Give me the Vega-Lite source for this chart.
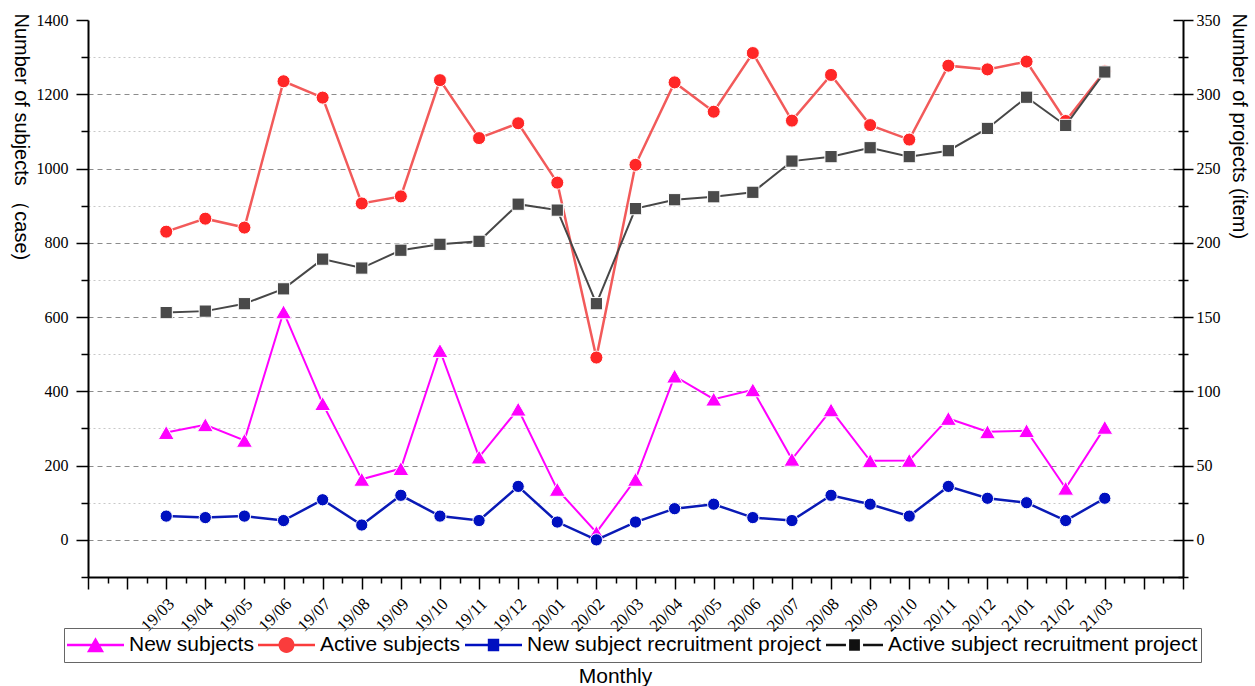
{
  "$schema": "https://vega.github.io/schema/vega-lite/v6.json",
  "width": 1095,
  "height": 557,
  "autosize": {"type": "none"},
  "padding": {"left": 88, "top": 20, "right": 72, "bottom": 109},
  "background": "white",
  "config": {
    "view": {"stroke": null},
    "axis": {
      "labelFont": "Liberation Serif",
      "labelFontSize": 16,
      "labelColor": "black",
      "titleFont": "Liberation Sans",
      "titleFontSize": 20,
      "titleFontWeight": "normal",
      "titleColor": "black",
      "domainColor": "black",
      "domainWidth": 2,
      "tickColor": "black",
      "tickWidth": 1.5,
      "grid": false,
      "labelOverlap": false
    }
  },
  "datasets": {
    "d": [
      {"m": "19/03", "s": "New subjects", "v": 289}, {"m": "19/04", "s": "New subjects", "v": 310}, {"m": "19/05", "s": "New subjects", "v": 268}, {"m": "19/06", "s": "New subjects", "v": 614}, {"m": "19/07", "s": "New subjects", "v": 367},
      {"m": "19/08", "s": "New subjects", "v": 163}, {"m": "19/09", "s": "New subjects", "v": 192}, {"m": "19/10", "s": "New subjects", "v": 510}, {"m": "19/11", "s": "New subjects", "v": 223}, {"m": "19/12", "s": "New subjects", "v": 352},
      {"m": "20/01", "s": "New subjects", "v": 136}, {"m": "20/02", "s": "New subjects", "v": 20}, {"m": "20/03", "s": "New subjects", "v": 163}, {"m": "20/04", "s": "New subjects", "v": 441}, {"m": "20/05", "s": "New subjects", "v": 379},
      {"m": "20/06", "s": "New subjects", "v": 404}, {"m": "20/07", "s": "New subjects", "v": 217}, {"m": "20/08", "s": "New subjects", "v": 350}, {"m": "20/09", "s": "New subjects", "v": 213}, {"m": "20/10", "s": "New subjects", "v": 214},
      {"m": "20/11", "s": "New subjects", "v": 327}, {"m": "20/12", "s": "New subjects", "v": 291}, {"m": "21/01", "s": "New subjects", "v": 294}, {"m": "21/02", "s": "New subjects", "v": 139}, {"m": "21/03", "s": "New subjects", "v": 303},

      {"m": "19/03", "s": "Active subjects", "v": 830}, {"m": "19/04", "s": "Active subjects", "v": 865}, {"m": "19/05", "s": "Active subjects", "v": 841}, {"m": "19/06", "s": "Active subjects", "v": 1235}, {"m": "19/07", "s": "Active subjects", "v": 1191},
      {"m": "19/08", "s": "Active subjects", "v": 906}, {"m": "19/09", "s": "Active subjects", "v": 925}, {"m": "19/10", "s": "Active subjects", "v": 1238}, {"m": "19/11", "s": "Active subjects", "v": 1082}, {"m": "19/12", "s": "Active subjects", "v": 1122},
      {"m": "20/01", "s": "Active subjects", "v": 962}, {"m": "20/02", "s": "Active subjects", "v": 491}, {"m": "20/03", "s": "Active subjects", "v": 1010}, {"m": "20/04", "s": "Active subjects", "v": 1232}, {"m": "20/05", "s": "Active subjects", "v": 1153},
      {"m": "20/06", "s": "Active subjects", "v": 1311}, {"m": "20/07", "s": "Active subjects", "v": 1129}, {"m": "20/08", "s": "Active subjects", "v": 1252}, {"m": "20/09", "s": "Active subjects", "v": 1117}, {"m": "20/10", "s": "Active subjects", "v": 1078},
      {"m": "20/11", "s": "Active subjects", "v": 1277}, {"m": "20/12", "s": "Active subjects", "v": 1267}, {"m": "21/01", "s": "Active subjects", "v": 1288}, {"m": "21/02", "s": "Active subjects", "v": 1128}, {"m": "21/03", "s": "Active subjects", "v": 1262},

      {"m": "19/03", "s": "New subject recruitment project", "v": 16}, {"m": "19/04", "s": "New subject recruitment project", "v": 15}, {"m": "19/05", "s": "New subject recruitment project", "v": 16}, {"m": "19/06", "s": "New subject recruitment project", "v": 13}, {"m": "19/07", "s": "New subject recruitment project", "v": 27},
      {"m": "19/08", "s": "New subject recruitment project", "v": 10}, {"m": "19/09", "s": "New subject recruitment project", "v": 30}, {"m": "19/10", "s": "New subject recruitment project", "v": 16}, {"m": "19/11", "s": "New subject recruitment project", "v": 13}, {"m": "19/12", "s": "New subject recruitment project", "v": 36},
      {"m": "20/01", "s": "New subject recruitment project", "v": 12}, {"m": "20/02", "s": "New subject recruitment project", "v": 0}, {"m": "20/03", "s": "New subject recruitment project", "v": 12}, {"m": "20/04", "s": "New subject recruitment project", "v": 21}, {"m": "20/05", "s": "New subject recruitment project", "v": 24},
      {"m": "20/06", "s": "New subject recruitment project", "v": 15}, {"m": "20/07", "s": "New subject recruitment project", "v": 13}, {"m": "20/08", "s": "New subject recruitment project", "v": 30}, {"m": "20/09", "s": "New subject recruitment project", "v": 24}, {"m": "20/10", "s": "New subject recruitment project", "v": 16},
      {"m": "20/11", "s": "New subject recruitment project", "v": 36}, {"m": "20/12", "s": "New subject recruitment project", "v": 28}, {"m": "21/01", "s": "New subject recruitment project", "v": 25}, {"m": "21/02", "s": "New subject recruitment project", "v": 13}, {"m": "21/03", "s": "New subject recruitment project", "v": 28},

      {"m": "19/03", "s": "Active subject recruitment project", "v": 153}, {"m": "19/04", "s": "Active subject recruitment project", "v": 154}, {"m": "19/05", "s": "Active subject recruitment project", "v": 159}, {"m": "19/06", "s": "Active subject recruitment project", "v": 169}, {"m": "19/07", "s": "Active subject recruitment project", "v": 189},
      {"m": "19/08", "s": "Active subject recruitment project", "v": 183}, {"m": "19/09", "s": "Active subject recruitment project", "v": 195}, {"m": "19/10", "s": "Active subject recruitment project", "v": 199}, {"m": "19/11", "s": "Active subject recruitment project", "v": 201}, {"m": "19/12", "s": "Active subject recruitment project", "v": 226},
      {"m": "20/01", "s": "Active subject recruitment project", "v": 222}, {"m": "20/02", "s": "Active subject recruitment project", "v": 159}, {"m": "20/03", "s": "Active subject recruitment project", "v": 223}, {"m": "20/04", "s": "Active subject recruitment project", "v": 229}, {"m": "20/05", "s": "Active subject recruitment project", "v": 231},
      {"m": "20/06", "s": "Active subject recruitment project", "v": 234}, {"m": "20/07", "s": "Active subject recruitment project", "v": 255}, {"m": "20/08", "s": "Active subject recruitment project", "v": 258}, {"m": "20/09", "s": "Active subject recruitment project", "v": 264}, {"m": "20/10", "s": "Active subject recruitment project", "v": 258},
      {"m": "20/11", "s": "Active subject recruitment project", "v": 262}, {"m": "20/12", "s": "Active subject recruitment project", "v": 277}, {"m": "21/01", "s": "Active subject recruitment project", "v": 298}, {"m": "21/02", "s": "Active subject recruitment project", "v": 279}, {"m": "21/03", "s": "Active subject recruitment project", "v": 315}
    ]
  },
  "data": {"name": "d"},
  "encoding": {
    "x": {
      "field": "m",
      "type": "ordinal",
      "scale": {
        "type": "point",
        "padding": 0,
        "domain": ["a0","a0h","a1","a1h","19/03","19/03h","19/04","19/04h","19/05","19/05h","19/06","19/06h","19/07","19/07h","19/08","19/08h","19/09","19/09h","19/10","19/10h","19/11","19/11h","19/12","19/12h","20/01","20/01h","20/02","20/02h","20/03","20/03h","20/04","20/04h","20/05","20/05h","20/06","20/06h","20/07","20/07h","20/08","20/08h","20/09","20/09h","20/10","20/10h","20/11","20/11h","20/12","20/12h","21/01","21/01h","21/02","21/02h","21/03","21/03h","b0","b0h","b1"]
      },
      "axis": {
        "title": "Monthly",
        "titleFontSize": 21,
        "titleX": 527,
        "titleY": 105,
        "titleAlign": "center",
        "titleBaseline": "alphabetic",
        "labelExpr": "indexof(datum.value, '/') > 0 && indexof(datum.value, 'h') < 0 ? datum.value : ''",
        "labelFont": "Liberation Serif",
        "labelFontSize": 17,
        "labelAngle": -45,
        "labelAlign": "right",
        "labelBaseline": "middle",
        "labelPadding": 12,
        "labelOffset": 5,
        "tickSize": {"condition": {"test": "indexof(datum.value, 'h') >= 0", "value": 6}, "value": 12}
      }
    }
  },
  "layer": [
    {
      "encoding": {
        "y": {
          "field": "v",
          "type": "quantitative",
          "scale": {"domain": [-100, 1400], "nice": false, "zero": false},
          "axis": {
            "orient": "left",
            "values": [-100, 0, 100, 200, 300, 400, 500, 600, 700, 800, 900, 1000, 1100, 1200, 1300, 1400],
            "format": "d",
            "labelExpr": "datum.value >= 0 && datum.value % 200 === 0 ? datum.label : ''",
            "labelPadding": 8,
            "tickSize": {"condition": {"test": "datum.value % 200 === 0", "value": 12}, "value": 7},
            "grid": true,
            "gridWidth": 1,
            "gridDash": {"condition": {"test": "datum.value % 200 === 0", "value": [5, 4]}, "value": [2, 3]},
            "gridColor": {"condition": {"test": "datum.value % 200 === 0", "value": "#8c8c8c"}, "value": "#c8c8c8"},
            "gridOpacity": {"condition": {"test": "datum.value < 0 || datum.value >= 1400", "value": 0}, "value": 1},
            "title": "Number of subjects （case)",
            "titleAngle": 90,
            "titleAlign": "left",
            "titleBaseline": "middle",
            "titleX": -68,
            "titleY": -7
          }
        }
      },
      "layer": [
        {
          "transform": [{"filter": "datum.s === 'New subjects'"}],
          "mark": {"type": "line", "color": "#ff00ff", "strokeWidth": 2},
          "encoding": {}
        },
        {
          "transform": [{"filter": "datum.s === 'New subjects'"}],
          "mark": {"type": "point", "shape": "triangle-up", "filled": true, "size": 256, "fill": "#ff00ff", "stroke": "white", "strokeWidth": 1, "opacity": 1},
          "encoding": {}
        },
        {
          "transform": [{"filter": "datum.s === 'Active subjects'"}],
          "mark": {"type": "line", "color": "#f25a5a", "strokeWidth": 2.5},
          "encoding": {}
        },
        {
          "transform": [{"filter": "datum.s === 'Active subjects'"}],
          "mark": {"type": "point", "shape": "circle", "filled": true, "size": 170, "fill": "#ff2626", "stroke": "white", "strokeWidth": 1, "opacity": 1},
          "encoding": {}
        },
        {
          "mark": {"type": "point", "filled": true, "opacity": 0},
          "encoding": {
            "color": {
              "field": "s",
              "type": "nominal",
              "scale": {
                "domain": ["New subjects", "Active subjects", "New subject recruitment project", "Active subject recruitment project"],
                "range": ["#ff00ff", "#fa3c3c", "#0010c0", "#111111"]
              },
              "legend": {
                "title": null,
                "orient": "none",
                "legendX": -24,
                "legendY": 608,
                "direction": "horizontal",
                "labelFont": "Liberation Sans",
                "labelFontSize": 21,
                "labelColor": "black",
                "labelLimit": 0,
                "labelOffset": 5,
                "columnPadding": 4,
                "padding": 3,
                "strokeColor": "#666666",
                "symbolSize": 3249,
                "symbolStrokeWidth": 0,
                "symbolOpacity": 1,
                "clipHeight": 28
              }
            },
            "shape": {
              "field": "s",
              "type": "nominal",
              "scale": {
                "domain": ["New subjects", "Active subjects", "New subject recruitment project", "Active subject recruitment project"],
                "range": [
                  "M-1,-0.04H1V0.04H-1Z M0,-0.27L0.3,0.25L-0.3,0.25Z",
                  "M-1,-0.045H1V0.045H-1Z M0.28,0A0.28,0.28,0,1,1,-0.28,0A0.28,0.28,0,1,1,0.28,0Z",
                  "M-1,-0.04H1V0.04H-1Z M-0.2,-0.22H0.2V0.22H-0.2Z",
                  "M-1,-0.045H-0.3V0.045H-1Z M0.3,-0.045H1V0.045H0.3Z M-0.19,-0.2H0.19V0.2H-0.19Z"
                ]
              },
              "legend": {
                "title": null,
                "orient": "none",
                "legendX": -24,
                "legendY": 608,
                "direction": "horizontal",
                "labelFont": "Liberation Sans",
                "labelFontSize": 21,
                "labelColor": "black",
                "labelLimit": 0,
                "labelOffset": 5,
                "columnPadding": 4,
                "padding": 3,
                "strokeColor": "#666666",
                "symbolSize": 3249,
                "symbolStrokeWidth": 0,
                "symbolOpacity": 1,
                "clipHeight": 28
              }
            }
          }
        }
      ]
    },
    {
      "encoding": {
        "y": {
          "field": "v",
          "type": "quantitative",
          "scale": {"domain": [-25, 350], "nice": false, "zero": false},
          "axis": {
            "orient": "right",
            "values": [-25, 0, 25, 50, 75, 100, 125, 150, 175, 200, 225, 250, 275, 300, 325, 350],
            "format": "d",
            "labelExpr": "datum.value >= 0 && datum.value % 50 === 0 ? datum.label : ''",
            "labelPadding": 3,
            "tickSize": {"condition": {"test": "datum.value % 50 === 0", "value": 10}, "value": 5},
            "grid": false,
            "title": "Number of projects (item)",
            "titleAngle": 90,
            "titleAlign": "left",
            "titleBaseline": "middle",
            "titleX": 55,
            "titleY": -7
          }
        }
      },
      "layer": [
        {
          "transform": [{"filter": "datum.s === 'New subject recruitment project'"}],
          "mark": {"type": "line", "color": "#0a1ab6", "strokeWidth": 2.5},
          "encoding": {}
        },
        {
          "transform": [{"filter": "datum.s === 'New subject recruitment project'"}],
          "mark": {"type": "point", "shape": "circle", "filled": true, "size": 150, "fill": "#0010c0", "stroke": "white", "strokeWidth": 1, "opacity": 1},
          "encoding": {}
        },
        {
          "transform": [{"filter": "datum.s === 'Active subject recruitment project'"}],
          "mark": {"type": "line", "color": "#474747", "strokeWidth": 2},
          "encoding": {}
        },
        {
          "transform": [{"filter": "datum.s === 'Active subject recruitment project'"}],
          "mark": {"type": "point", "shape": "square", "filled": true, "size": 150, "fill": "#4a4a4a", "stroke": "white", "strokeWidth": 1, "opacity": 1},
          "encoding": {}
        }
      ]
    },
    {
      "transform": [{"filter": "datum.s === 'New subject recruitment project'"}],
      "mark": {"type": "point", "opacity": 0},
      "encoding": {
        "y": {
          "field": "v",
          "type": "quantitative",
          "scale": {"domain": [-25, 350], "nice": false, "zero": false},
          "axis": {
            "orient": "right",
            "values": [-25, 0, 25, 50, 75, 100, 125, 150, 175, 200, 225, 250, 275, 300, 325, 350],
            "labels": false,
            "domain": false,
            "grid": false,
            "title": null,
            "tickSize": {"condition": {"test": "datum.value % 50 === 0", "value": -10}, "value": -5}
          }
        }
      }
    }
  ],
  "resolve": {"scale": {"y": "independent"}, "axis": {"y": "independent"}}
}
